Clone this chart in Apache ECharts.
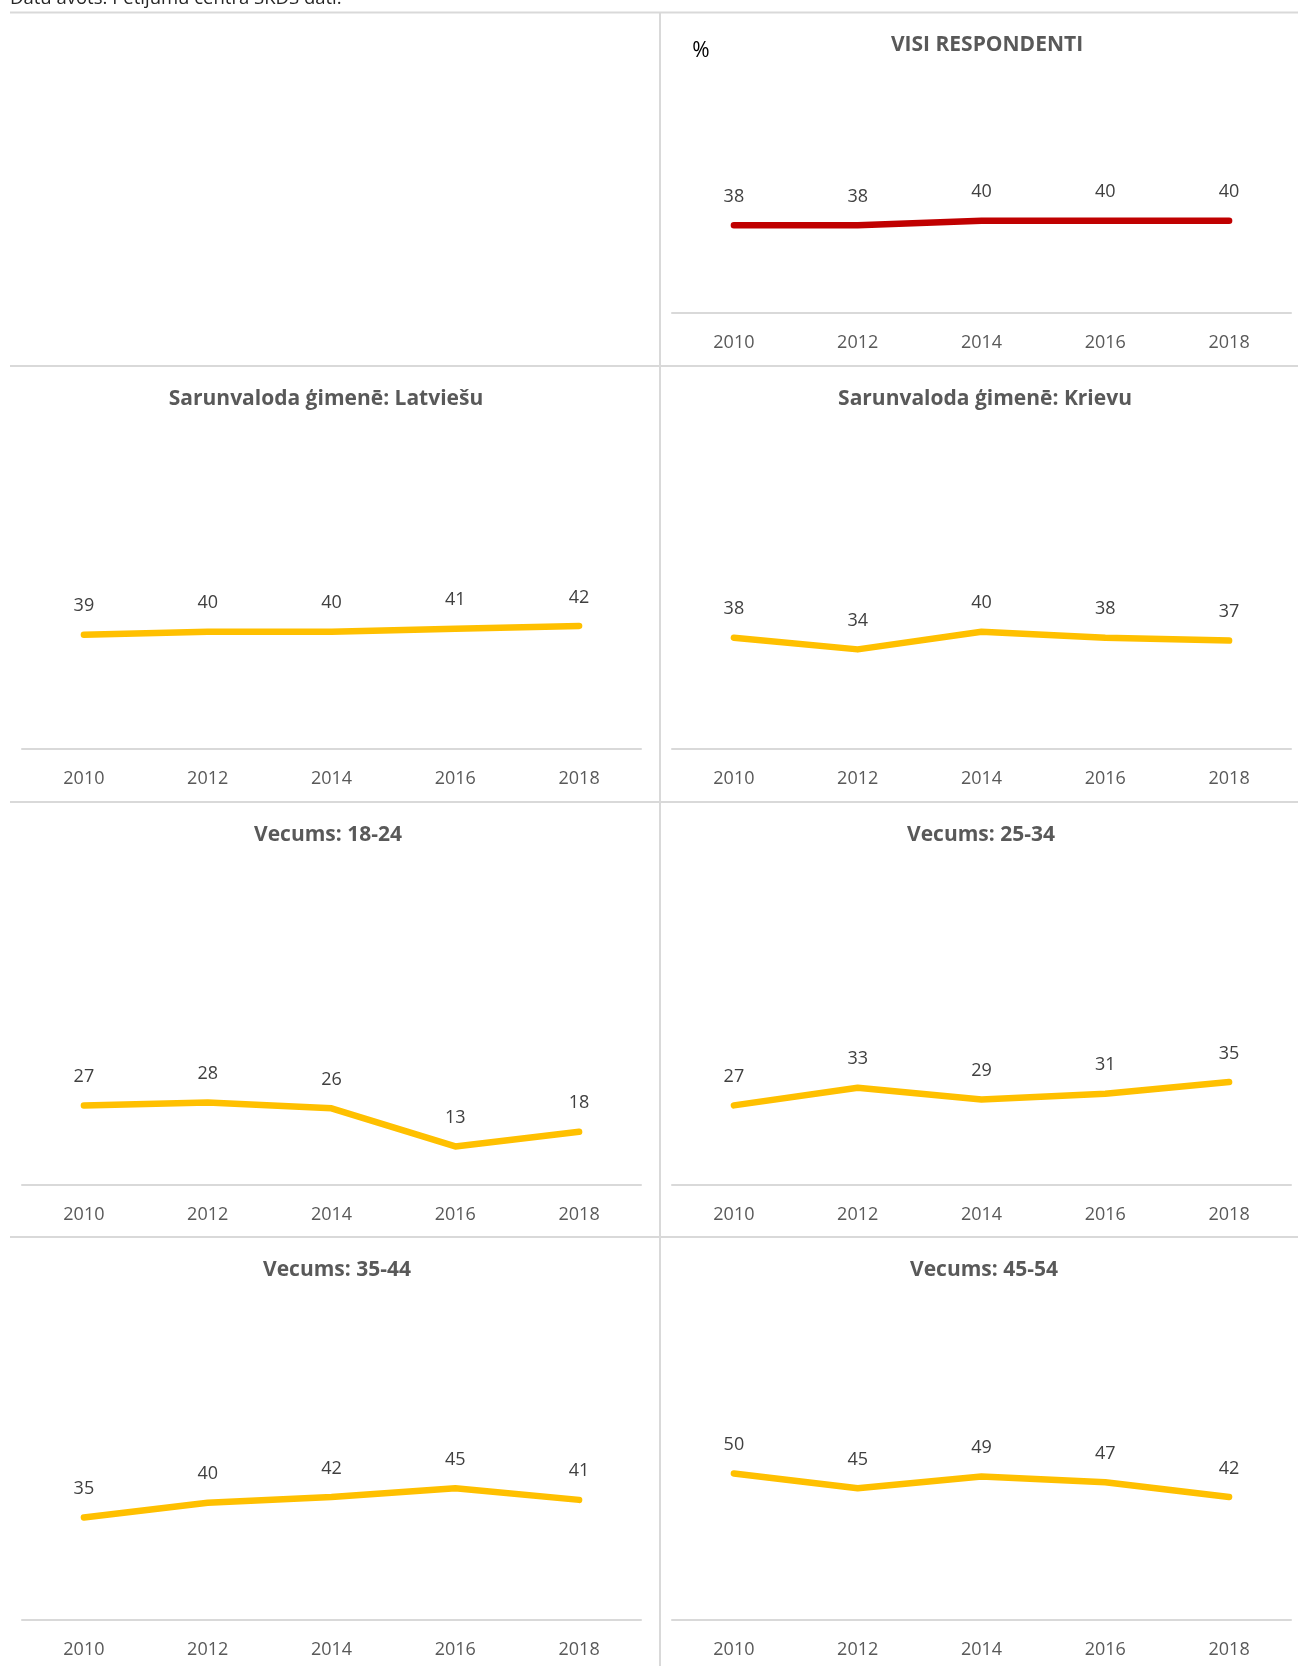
<!DOCTYPE html>
<html>
<head>
<meta charset="utf-8">
<script src="https://cdn.jsdelivr.net/npm/echarts@6/dist/echarts.min.js"></script>
<style>
html,body{margin:0;padding:0;background:#fff;}
#c{width:1298px;height:1666px;}
</style>
</head>
<body>
<div id="c"></div>
<script>
const years = ['2010', '2012', '2014', '2016', '2018'];
const titles = [
  'VISI RESPONDENTI',
  'Sarunvaloda ģimenē: Latviešu',
  'Sarunvaloda ģimenē: Krievu',
  'Vecums: 18-24',
  'Vecums: 25-34',
  'Vecums: 35-44',
  'Vecums: 45-54'
];
const visi = [38, 38, 40, 40, 40];
const latviesu = [39, 40, 40, 41, 42];
const krievu = [38, 34, 40, 38, 37];
const age1824 = [27, 28, 26, 13, 18];
const age2534 = [27, 33, 29, 31, 35];
const age3544 = [35, 40, 42, 45, 41];
const age4554 = [50, 45, 49, 47, 42];
const sourceText = 'Datu avots: Pētījumu centra SKDS dati.';
const unitLabel = '%';

const seriesData = [visi, latviesu, krievu, age1824, age2534, age3544, age4554];
const colors = ['#C00000', '#FFC000', '#FFC000', '#FFC000', '#FFC000', '#FFC000', '#FFC000'];

// layout (pixels)
const grids = [
  {left: 672, top: 83, width: 619, height: 229.5},
  {left: 22, top: 456, width: 619, height: 293},
  {left: 672, top: 456, width: 619, height: 293},
  {left: 22, top: 891.5, width: 619, height: 293},
  {left: 672, top: 891.5, width: 619, height: 293},
  {left: 22, top: 1327, width: 619, height: 293},
  {left: 672, top: 1327, width: 619, height: 293}
];
const titlePos = [
  [987, 45.5], [326, 399.5], [985, 399.5], [328, 835.5], [981, 835.5], [337, 1270.5], [984, 1270.5]
];

const FONT = '"Open Sans", "DejaVu Sans", sans-serif';
const lineColor = '#D9D9D9';

const option = {
  animation: false,
  backgroundColor: '#ffffff',
  grid: grids.map(g => Object.assign({containLabel: false}, g)),
  xAxis: grids.map((g, i) => ({
    type: 'category',
    gridIndex: i,
    data: years,
    boundaryGap: true,
    axisLine: {show: true, lineStyle: {color: lineColor, width: 2}},
    axisTick: {show: false},
    axisLabel: {color: '#595959', fontSize: 18, fontFamily: FONT, margin: 21},
    splitLine: {show: false}
  })),
  yAxis: grids.map((g, i) => ({
    type: 'value',
    gridIndex: i,
    min: 0,
    max: 100,
    show: false,
    splitLine: {show: false}
  })),
  series: seriesData.map((d, i) => ({
    type: 'line',
    xAxisIndex: i,
    yAxisIndex: i,
    data: d,
    symbol: 'circle',
    symbolSize: 1,
    showSymbol: true,
    lineStyle: {color: colors[i], width: 6.5, cap: 'round', join: 'round'},
    itemStyle: {color: colors[i], opacity: 0},
    label: {
      show: true,
      position: 'top',
      distance: 19,
      color: '#404040',
      fontSize: 18,
      fontFamily: FONT,
      opacity: 1
    },
    labelLayout: {hideOverlap: false}
  })),
  graphic: [
    {type: 'line', shape: {x1: 10, y1: 12.5, x2: 1298, y2: 12.5}, style: {stroke: lineColor, lineWidth: 2}},
    {type: 'line', shape: {x1: 660, y1: 12, x2: 660, y2: 1666}, style: {stroke: lineColor, lineWidth: 2}},
    {type: 'line', shape: {x1: 10, y1: 366, x2: 1298, y2: 366}, style: {stroke: lineColor, lineWidth: 2}},
    {type: 'line', shape: {x1: 10, y1: 802, x2: 1298, y2: 802}, style: {stroke: lineColor, lineWidth: 2}},
    {type: 'line', shape: {x1: 10, y1: 1237, x2: 1298, y2: 1237}, style: {stroke: lineColor, lineWidth: 2}},
    {type: 'text', x: 10, y: -1, style: {text: sourceText, fill: '#262626', font: '18.5px ' + FONT, textVerticalAlign: 'middle', textAlign: 'left'}},
    {type: 'text', x: 701, y: 51, style: {text: unitLabel, fill: '#000000', font: '21px ' + FONT, textVerticalAlign: 'middle', textAlign: 'center'}}
  ].concat(titles.map((t, i) => ({
    type: 'text',
    x: titlePos[i][0],
    y: titlePos[i][1],
    style: {text: t, fill: '#595959', font: 'bold 21px ' + FONT, textAlign: 'center', textVerticalAlign: 'middle'}
  })))
};

const chart = echarts.init(document.getElementById('c'), null, {renderer: 'canvas'});
chart.setOption(option);
</script>
</body>
</html>
